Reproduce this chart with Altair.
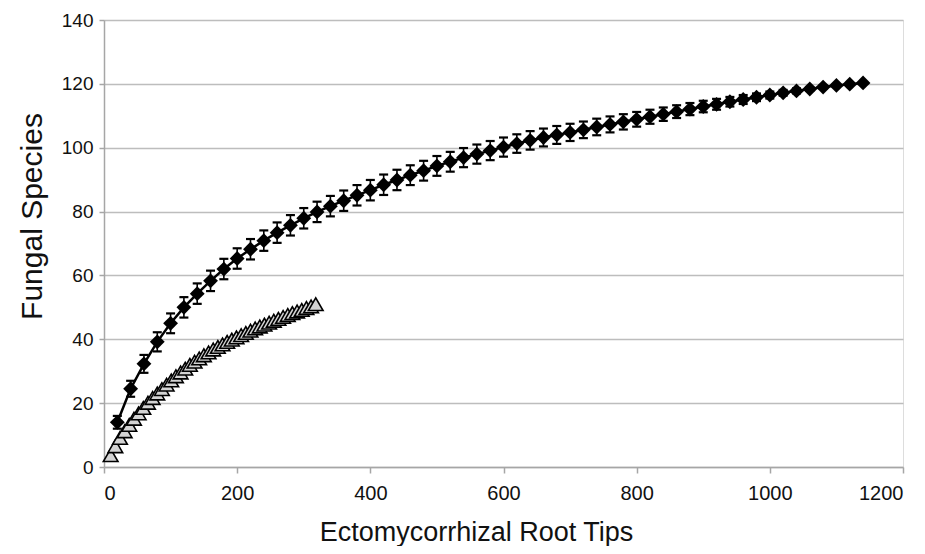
import altair as alt
import pandas as pd

# Diamond series (black) – x, mean, error half-width
dia_x = [20, 40, 60, 80, 100, 120, 140, 160, 180, 200, 220, 240, 260, 280, 300,
         320, 340, 360, 380, 400, 420, 440, 460, 480, 500, 520, 540, 560, 580, 600,
         620, 640, 660, 680, 700, 720, 740, 760, 780, 800, 820, 840, 860, 880, 900,
         920, 940, 960, 980, 1000, 1020, 1040, 1060, 1080, 1100, 1120, 1140]
dia_y = [14.0, 24.5, 32.3, 39.2, 45.0, 50.0, 54.3, 58.3, 62.0, 65.3, 68.2, 70.9, 73.4, 75.7, 77.9,
         79.9, 81.7, 83.4, 85.1, 86.7, 88.4, 89.9, 91.4, 92.8, 94.3, 95.6, 96.9, 98.0, 99.1, 100.2,
         101.3, 102.3, 103.2, 104.0, 104.8, 105.6, 106.5, 107.3, 108.1, 108.9, 109.7, 110.5, 111.3, 112.1, 112.9,
         113.6, 114.4, 115.1, 115.8, 116.5, 117.2, 117.8, 118.4, 119.0, 119.5, 119.9, 120.3]
dia_err = [2.0, 2.5, 2.8, 3.0, 3.1, 3.2, 3.2, 3.2, 3.2, 3.2, 3.2, 3.2, 3.2, 3.2, 3.2,
           3.2, 3.2, 3.2, 3.2, 3.2, 3.2, 3.2, 3.1, 3.1, 3.1, 3.1, 3.0, 3.0, 3.0, 3.0,
           2.9, 2.9, 2.8, 2.8, 2.7, 2.6, 2.6, 2.5, 2.4, 2.3, 2.2, 2.1, 2.0, 1.9, 1.8,
           1.7, 1.5, 1.4, 1.2, 1.1, 0.9, 0.8, 0.6, 0.5, 0.3, 0.2, 0.0]

# Triangle series (grey)
tri_x = [10, 17, 24, 31, 38, 45, 52, 59, 66, 73, 80, 87, 94, 101, 108,
         115, 122, 129, 136, 143, 150, 157, 164, 171, 178, 185, 192, 199, 206, 213,
         220, 227, 234, 241, 248, 255, 262, 269, 276, 283, 290, 297, 304, 311, 318]
tri_y = [3.7, 6.5, 9.1, 11.2, 13.2, 15.1, 16.8, 18.5, 20.1, 21.6, 23.0, 24.4, 25.8, 27.1, 28.4,
         29.6, 30.8, 32.0, 33.0, 34.0, 35.0, 35.9, 36.8, 37.6, 38.4, 39.2, 39.9, 40.6, 41.3, 42.0,
         42.7, 43.4, 44.0, 44.6, 45.2, 45.8, 46.4, 47.0, 47.6, 48.2, 48.7, 49.2, 49.8, 50.3, 51.0]

x_ticks = [0, 200, 400, 600, 800, 1000, 1200]
y_ticks = [0, 20, 40, 60, 80, 100, 120, 140]

dia = pd.DataFrame({"x": dia_x, "y": dia_y, "e": dia_err})
dia["lo"] = dia["y"] - dia["e"]
dia["hi"] = dia["y"] + dia["e"]
tri = pd.DataFrame({"x": tri_x, "y": tri_y})

FONT = "Liberation Sans"

xs = alt.Scale(domain=[0, 1200], nice=False, zero=True)
ys = alt.Scale(domain=[0, 140], nice=False, zero=True)

x_axis = alt.Axis(values=x_ticks, format="d", grid=False, title="Ectomycorrhizal Root Tips",
                  domainColor="#a6a6a6", domainWidth=1.5, tickColor="#a6a6a6", tickWidth=1.5,
                  tickSize=6, labelPadding=10, labelFont=FONT, labelFontSize=20, labelColor="#111111",
                  titleFont=FONT, titleFontSize=27, titleFontWeight="normal", titleColor="#111111",
                  titleX=372, titleY=73, titleAlign="center", titleBaseline="alphabetic")
y_axis = alt.Axis(values=y_ticks, format="d", grid=True, gridColor="#bdbdbd", gridWidth=1.5,
                  title="Fungal Species",
                  domainColor="#a6a6a6", domainWidth=1.5, tickColor="#a6a6a6", tickWidth=1.5,
                  tickSize=5, labelPadding=6, labelFont=FONT, labelFontSize=19, labelColor="#111111",
                  titleFont=FONT, titleFontSize=30, titleFontWeight="normal", titleColor="#111111",
                  titleAngle=-90, titleX=-63, titleY=196, titleAlign="center", titleBaseline="alphabetic")

base_axes = alt.Chart(tri).mark_point(opacity=0).encode(
    x=alt.X("x:Q", scale=xs, axis=x_axis),
    y=alt.Y("y:Q", scale=ys, axis=y_axis),
)

tri_line = alt.Chart(tri).mark_line(color="black", strokeWidth=1.2).encode(
    x=alt.X("x:Q", scale=xs), y=alt.Y("y:Q", scale=ys))
tri_pts = alt.Chart(tri).mark_point(shape="triangle-up", filled=True, fill="#d3d3d3",
                                    stroke="black", strokeWidth=1.6, size=215, opacity=1).encode(
    x=alt.X("x:Q", scale=xs), y=alt.Y("y:Q", scale=ys))

dia_line = alt.Chart(dia).mark_line(color="black", strokeWidth=2.5).encode(
    x=alt.X("x:Q", scale=xs), y=alt.Y("y:Q", scale=ys))
err_rule = alt.Chart(dia).mark_rule(color="black", strokeWidth=1.6).encode(
    x=alt.X("x:Q", scale=xs), y=alt.Y("lo:Q", scale=ys), y2="hi:Q")
cap_lo = alt.Chart(dia).mark_tick(color="black", orient="horizontal", size=9, thickness=2.2, opacity=1).encode(
    x=alt.X("x:Q", scale=xs), y=alt.Y("lo:Q", scale=ys))
cap_hi = alt.Chart(dia).mark_tick(color="black", orient="horizontal", size=9, thickness=2.2, opacity=1).encode(
    x=alt.X("x:Q", scale=xs), y=alt.Y("hi:Q", scale=ys))
dia_pts = alt.Chart(dia).mark_point(shape="diamond", filled=True, color="black", size=220, opacity=1).encode(
    x=alt.X("x:Q", scale=xs), y=alt.Y("y:Q", scale=ys))

chart = alt.layer(base_axes, tri_line, tri_pts, dia_line, err_rule, cap_lo, cap_hi, dia_pts).properties(
    width=799, height=447,
    padding={"left": 96, "top": 12, "right": 14, "bottom": 79},
    autosize=alt.AutoSizeParams(type="none"),
).configure_view(stroke=None).configure(background="white")

chart.save("out.html", embed_options={"renderer": "svg", "actions": False})
